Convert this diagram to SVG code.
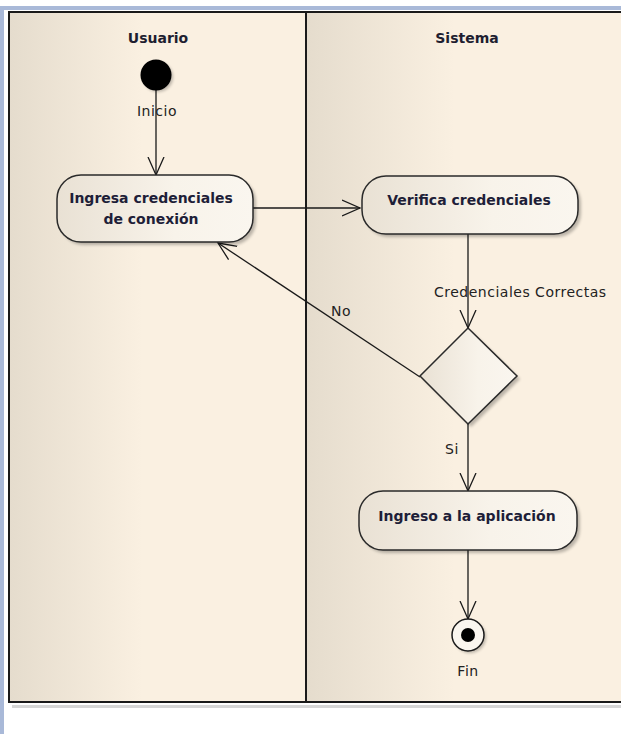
<svg xmlns="http://www.w3.org/2000/svg" width="621" height="734" viewBox="0 0 621 734">
<defs>
<style>
.lane{stroke:#1a1a1a;stroke-width:2}
.hdr{font-family:"DejaVu Sans","Liberation Sans",sans-serif;font-weight:bold;font-size:14px;fill:#1e1e30;text-anchor:middle}
.act{fill:url(#boxg);stroke:#2a2a2a;stroke-width:1.5}
.atxt{font-family:"DejaVu Sans","Liberation Sans",sans-serif;font-weight:bold;font-size:14px;fill:#1e1e38;text-anchor:middle}
.lbl{font-family:"DejaVu Sans","Liberation Sans",sans-serif;font-size:14px;letter-spacing:0.5px;fill:#222;}
.edge{fill:none;stroke:#1a1a1a;stroke-width:1.3}
.shadow{fill:#000;opacity:0.25;filter:url(#blur)}
</style>
<linearGradient id="laneg" x1="0" y1="0" x2="1" y2="0">
<stop offset="0" stop-color="#e5dccd"/>
<stop offset="0.45" stop-color="#faf0e1"/>
<stop offset="1" stop-color="#faf0e1"/>
</linearGradient>
<linearGradient id="boxg" x1="0" y1="0" x2="1" y2="0">
<stop offset="0" stop-color="#e9e1d4"/>
<stop offset="0.6" stop-color="#f8f3ea"/>
<stop offset="1" stop-color="#faf6ef"/>
</linearGradient>
<filter id="blur" x="-20%" y="-20%" width="140%" height="140%"><feGaussianBlur stdDeviation="1.5"/></filter>
<marker id="arr" markerUnits="userSpaceOnUse" markerWidth="24" markerHeight="20" refX="18" refY="8" orient="auto" viewBox="0 0 24 16">
<path d="M0,0 L18,8 L0,16" fill="none" stroke="#1a1a1a" stroke-width="1.3"/>
</marker>
</defs>
<rect x="0" y="0" width="621" height="734" fill="#ffffff"/>
<rect x="0" y="6" width="621" height="728" fill="#a9b9d8"/>
<rect x="4" y="10" width="617" height="724" fill="#ffffff"/>
<rect x="12" y="705" width="609" height="3" fill="#bbb" opacity="0.6"/>
<g id="lane-usuario">
<rect x="9" y="12" width="297" height="690" fill="url(#laneg)" class="lane"/>
<text class="hdr" x="158" y="43">Usuario</text>
</g>
<g id="lane-sistema">
<rect x="306" y="12" width="330" height="690" fill="url(#laneg)" class="lane"/>
<text class="hdr" x="467" y="43">Sistema</text>
</g>
<g id="connectors">
<path class="edge" d="M156,90 L156,175" marker-end="url(#arr)"/>
<path class="edge" d="M253,208 L360,208" marker-end="url(#arr)"/>
<path class="edge" d="M468,233 L468,328" marker-end="url(#arr)"/>
<path class="edge" d="M420,377 L218,243" marker-end="url(#arr)"/>
<path class="edge" d="M468,424 L468,491" marker-end="url(#arr)"/>
<path class="edge" d="M468,550 L468,619" marker-end="url(#arr)"/>
<text class="lbl" x="434" y="297">Credenciales Correctas</text>
<text class="lbl" x="331" y="316">No</text>
<text class="lbl" x="445" y="454">Si</text>
</g>
<g id="inicio">
<circle cx="158" cy="77" r="15" fill="#000" opacity="0.25" filter="url(#blur)"/>
<circle cx="156" cy="75" r="15.5" fill="#000"/>
<text class="lbl" x="157" y="116" text-anchor="middle">Inicio</text>
</g>
<g id="ingresa">
<rect class="shadow" x="60" y="178" width="196" height="67" rx="24"/>
<rect class="act" x="57" y="175" width="196" height="67" rx="24"/>
<text class="atxt" x="151" y="203">Ingresa credenciales</text>
<text class="atxt" x="151" y="224">de conexión</text>
</g>
<g id="verifica">
<rect class="shadow" x="365" y="179" width="216" height="58" rx="24"/>
<rect class="act" x="362" y="176" width="216" height="58" rx="24"/>
<text class="atxt" x="469" y="205">Verifica credenciales</text>
</g>
<g id="decision">
<path class="shadow" d="M471,331 L520,379 L471,427 L423,379 Z"/>
<path class="act" d="M468,328 L517,376 L468,424 L420,376 Z"/>
</g>
<g id="ingreso">
<rect class="shadow" x="362" y="494" width="218" height="59" rx="24"/>
<rect class="act" x="359" y="491" width="218" height="59" rx="24"/>
<text class="atxt" x="467" y="521">Ingreso a la aplicación</text>
</g>
<g id="fin">
<circle cx="470" cy="637" r="16" fill="#000" opacity="0.25" filter="url(#blur)"/>
<circle cx="468" cy="635" r="16" fill="#faf6ef" stroke="#1a1a1a" stroke-width="1.5"/>
<circle cx="468" cy="635" r="7" fill="#000"/>
<text class="lbl" x="468" y="676" text-anchor="middle">Fin</text>
</g>
</svg>
